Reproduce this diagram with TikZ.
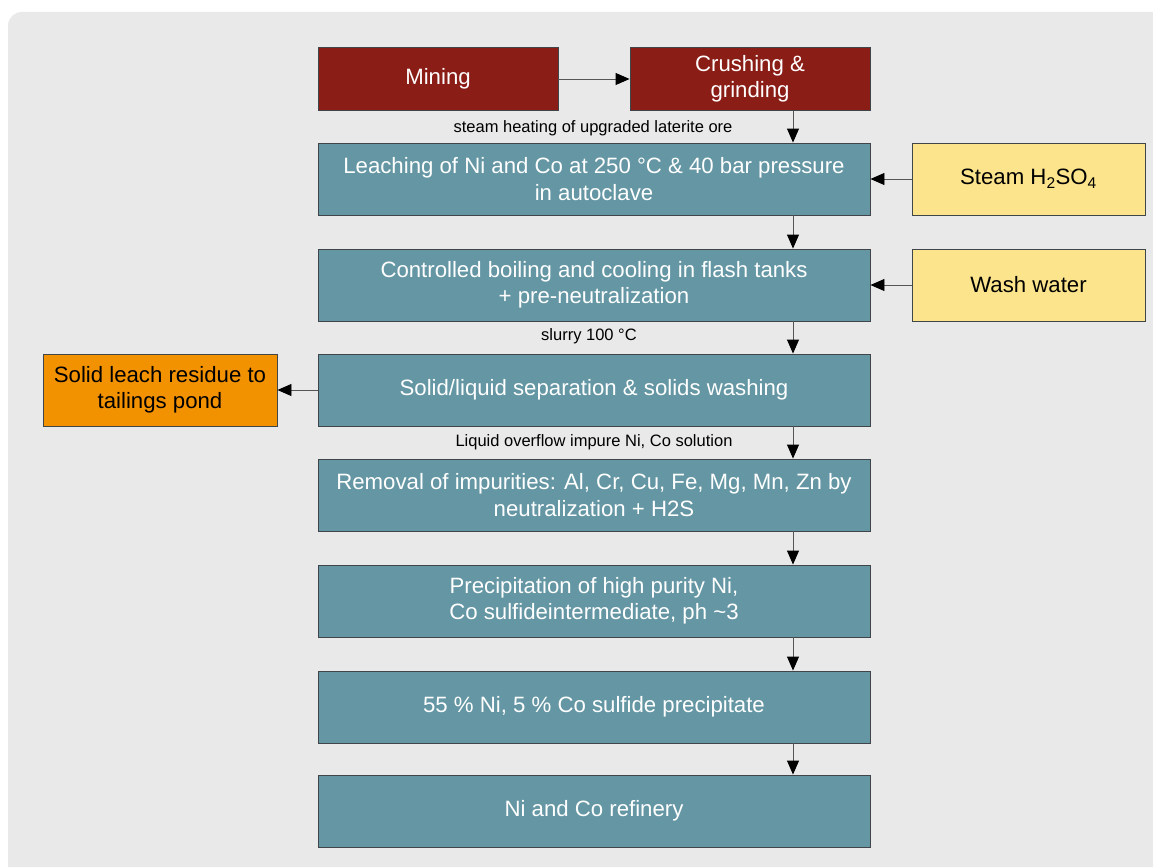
\documentclass[tikz,border=0pt]{standalone}
\usepackage{fontspec}
\setmainfont{Liberation Sans}
\usetikzlibrary{arrows.meta}
\definecolor{panelgray}{HTML}{E9E9E9}
\definecolor{orered}{HTML}{8B1D17}
\definecolor{stepteal}{HTML}{6496A4}
\definecolor{feedyellow}{HTML}{FCE48C}
\definecolor{wasteorange}{HTML}{F39200}
\definecolor{edgegray}{HTML}{3F4548}
\definecolor{linegray}{HTML}{555555}
\tikzset{
  box/.style={draw=edgegray, line width=0.9pt, align=center, inner sep=0pt,
    font=\fontsize{22.2}{26.5}\selectfont},
  redbox/.style={box, fill=orered, text=white, minimum width=240pt, minimum height=63pt},
  processbox/.style={box, fill=stepteal, text=white, minimum width=552pt, minimum height=72pt},
  feedbox/.style={box, fill=feedyellow, text=black, minimum width=233pt, minimum height=72pt},
  wastebox/.style={box, fill=wasteorange, text=black, minimum width=234pt, minimum height=72pt},
  flowlabel/.style={font=\fontsize{16.5}{19}\selectfont, inner sep=0pt},
  flow/.style={draw=linegray, line width=0.9pt, -{Triangle[length=14pt,width=12pt,color=black]}}
}
\begin{document}
\begin{tikzpicture}[x=1pt, y=-1pt]
  % canvas and grey panel (only the top-left corner is rounded)
  \useasboundingbox (0,0) rectangle (1153,867);
  \fill[white] (0,0) rectangle (1153,867);
  \fill[panelgray] (1153,867) -- (8,867) -- (8,26)
    .. controls (8,18) and (14,12) .. (22,12) -- (1153,12) -- cycle;

  % ore preparation
  \node[redbox] (mine) at (438,79) {Mining};
  \node[redbox] (crush) at (750,79) {Crushing \&\\grinding};

  % main process chain
  \node[processbox] (leach) at (594,179) {Leaching of Ni and Co at 250 °C \& 40 bar pressure\\in autoclave};
  \node[processbox] (boil) at (594,285) {Controlled boiling and cooling in flash tanks\\+ pre-neutralization};
  \node[processbox] (sep) at (594,390) {Solid/liquid separation \& solids washing};
  \node[processbox] (purify) at (594,495) {Removal of impurities: Al, Cr, Cu, Fe, Mg, Mn, Zn by\\neutralization + H2S};
  \node[processbox] (precip) at (594,601) {Precipitation of high purity Ni,\\Co sulfideintermediate, ph \textasciitilde 3};
  \node[processbox] (product) at (594,707) {55 \% Ni, 5 \% Co sulfide precipitate};
  \node[processbox] (refine) at (594,811) {Ni and Co refinery};

  % side inputs and outputs
  \node[feedbox] (acid) at (1028.5,179) {Steam H\textsubscript{2}SO\textsubscript{4}};
  \node[feedbox] (wash) at (1028.5,285) {Wash water};
  \node[wastebox] (residue) at (160,390) {Solid leach residue to\\tailings pond};

  % stream labels
  \node[flowlabel] (l1) at (593,128) {steam heating of upgraded laterite ore};
  \node[flowlabel] (l2) at (589,336) {slurry 100 °C};
  \node[flowlabel] (l3) at (594,442) {Liquid overflow impure Ni, Co solution};

  % main flow line position
  \coordinate (ax) at (793,0);

  \draw[flow] (mine) -- (crush);
  \draw[flow] (crush.south -| ax) -- (leach.north -| ax);
  \draw[flow] (leach.south -| ax) -- (boil.north -| ax);
  \draw[flow] (boil.south -| ax) -- (sep.north -| ax);
  \draw[flow] (sep.south -| ax) -- (purify.north -| ax);
  \draw[flow] (purify.south -| ax) -- (precip.north -| ax);
  \draw[flow] (precip.south -| ax) -- (product.north -| ax);
  \draw[flow] (product.south -| ax) -- (refine.north -| ax);

  \draw[flow] (acid) -- (leach);
  \draw[flow] (wash) -- (boil);
  \draw[flow] (sep) -- (residue);
\end{tikzpicture}
\end{document}
